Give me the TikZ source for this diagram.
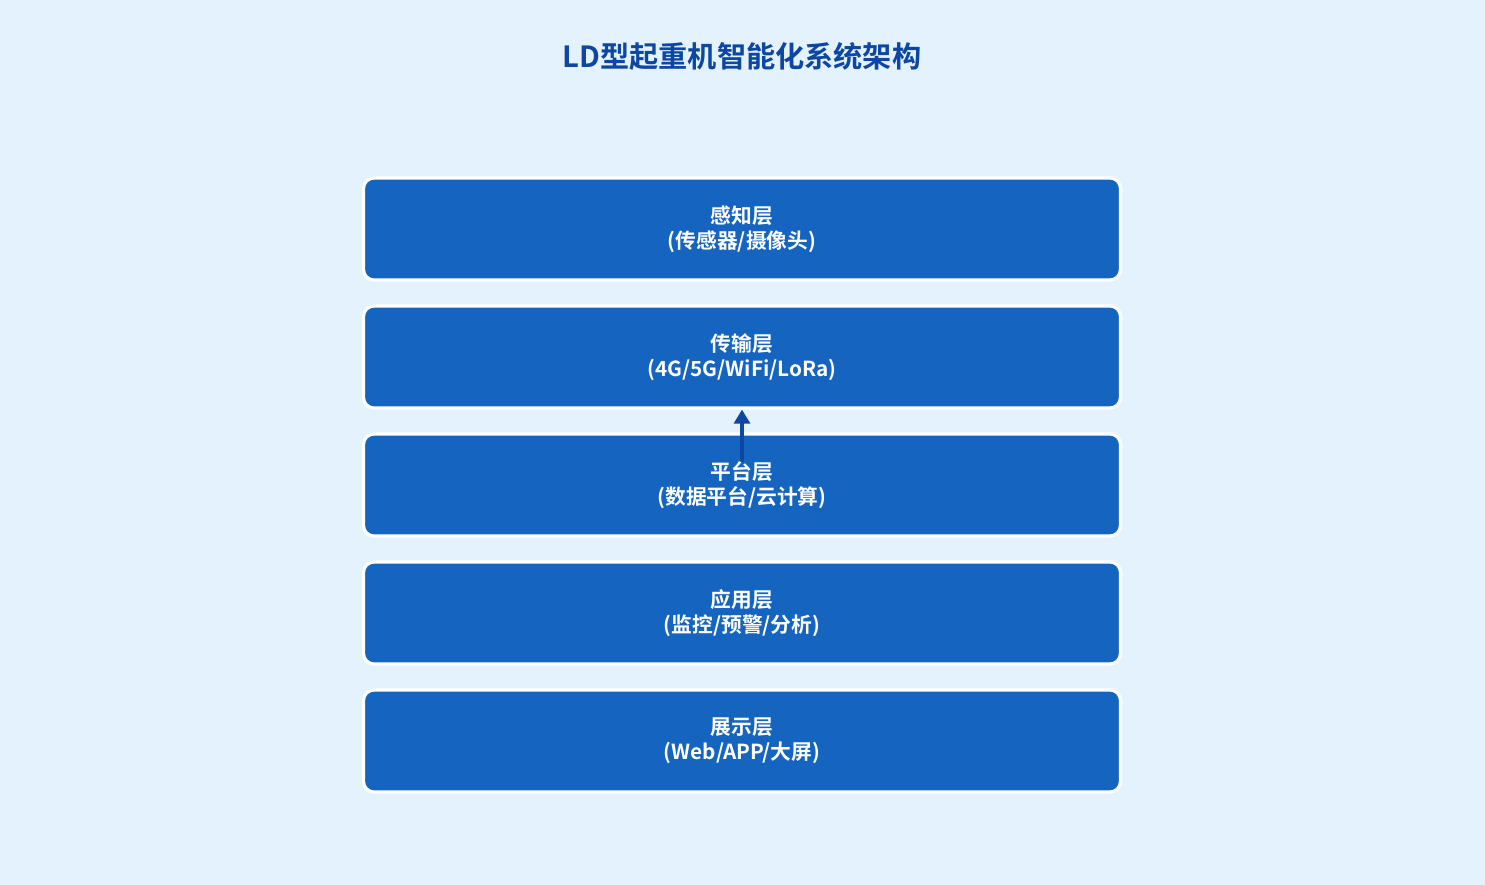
\documentclass[tikz,border=0pt]{standalone}
\usepackage{fontspec}
\setmainfont{Noto Sans CJK SC}[BoldFont={* Bold}]
\usetikzlibrary{arrows.meta}
\definecolor{bgblue}{HTML}{E3F2FD}
\definecolor{layerblue}{HTML}{1565C0}
\definecolor{titleblue}{HTML}{0D47A1}
\begin{document}
\begin{tikzpicture}[
    layer/.style={draw=white,line width=1.8pt,fill=layerblue,rounded corners=6pt,
        minimum width=15.14cm,minimum height=2.04cm,align=center,text=white,
        font=\fontsize{11.8}{14.2}\selectfont\bfseries}]
        \fill[bgblue] (0,0) rectangle (29.7,17.7);
        \useasboundingbox (0,0) rectangle (29.7,17.7);
        \node[text=titleblue,font=\fontsize{16.6}{20}\selectfont\bfseries] (title) at (14.84,16.58){LD型起重机智能化系统架构};

        \node[layer] (sense) at (14.84,13.12){感知层\\(传感器/摄像头)};
        \node[layer] (trans) at (14.84,10.56){传输层\\(4G/5G/WiFi/LoRa)};
        \node[layer] (plat) at (14.84,8.0){};
        \node[layer] (app) at (14.84,5.44){应用层\\(监控/预警/分析)};
        \node[layer] (show) at (14.84,2.88){展示层\\(Web/APP/大屏)};

        \coordinate (platup) at (14.84,8.46);
        \draw[titleblue,line width=2.6pt,-{Triangle[length=8pt,width=9pt]}] (platup) -- (trans.south);
        \node[align=center,text=white,font=\fontsize{11.8}{14.2}\selectfont\bfseries] (platlabel) at (plat.center){平台层\\(数据平台/云计算)};
    \end{tikzpicture}
\end{document}
